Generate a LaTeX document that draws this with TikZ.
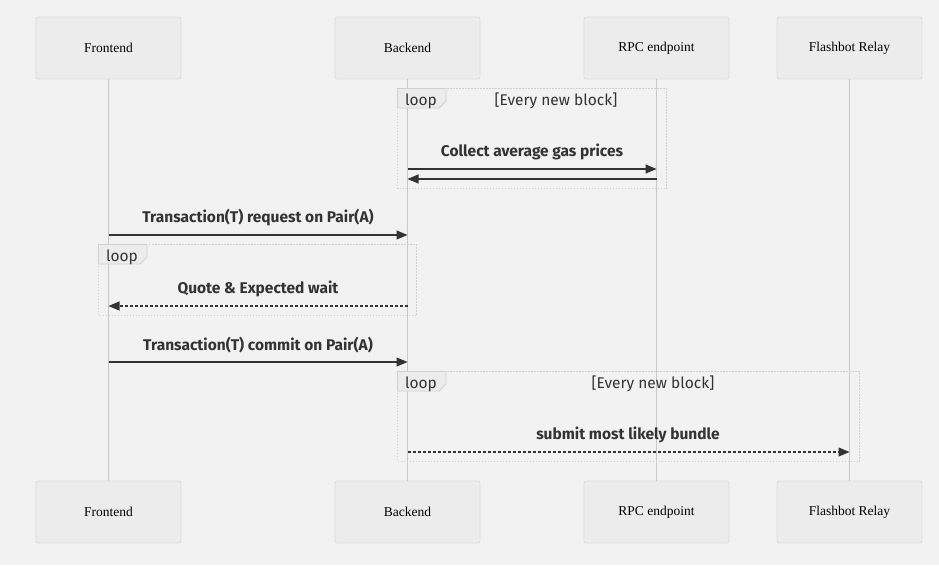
\documentclass[tikz,border=0pt]{standalone}
\usepackage{fontspec}
\setmainfont{Liberation Serif}
\newfontfamily\msgfont{Fira Sans}
\usetikzlibrary{arrows.meta}
\definecolor{bg}{HTML}{F2F2F2}
\definecolor{boxfill}{HTML}{ECECEC}
\definecolor{boxline}{HTML}{DCDCDC}
\definecolor{lifeline}{HTML}{C8C8C8}
\definecolor{ink}{HTML}{333333}
\definecolor{loopline}{HTML}{D0D0D0}
\tikzset{
  actor/.style={draw=boxline, fill=boxfill, rounded corners=2pt, minimum width=145pt, minimum height=62pt, inner sep=0pt, font=\fontsize{13.5}{15}\selectfont, text=black, line width=0.8pt},
  life/.style={draw=lifeline, line width=0.8pt},
  msg/.style={draw=ink, line width=1.1pt, -{Triangle[length=11pt,width=9pt]}},
  dmsg/.style={msg, dash pattern=on 3pt off 2pt},
  msglabel/.style={font=\msgfont\bfseries\fontsize{15.5}{17}\selectfont, text=ink, inner sep=0pt},
  loopbox/.style={draw=loopline, line width=1.2pt, dash pattern=on 1.5pt off 1.5pt},
  looptab/.style={draw=loopline, fill=boxfill, line width=0.8pt},
  looplabel/.style={font=\msgfont\fontsize{15.5}{17}\selectfont, text=ink, inner sep=0pt},
}
\begin{document}
\begin{tikzpicture}[x=1pt,y=-1pt]
\fill[bg] (0,0) rectangle (939,565);
\useasboundingbox (0,0) rectangle (939,565);
% participants
\node[actor] (f1) at (108.5,48) {Frontend};
\node[actor] (b1) at (407.5,48) {Backend};
\node[actor] (r1) at (656.5,48) {RPC endpoint};
\node[actor] (x1) at (849.5,48) {Flashbot Relay};
\node[actor] (f2) at (108.5,512) {Frontend};
\node[actor] (b2) at (407.5,512) {Backend};
\node[actor] (r2) at (656.5,512) {RPC endpoint};
\node[actor] (x2) at (849.5,512) {Flashbot Relay};
% lifelines
\draw[life] (f1.south) -- (f2.north);
\draw[life] (b1.south) -- (b2.north);
\draw[life] (r1.south) -- (r2.north);
\draw[life] (x1.south) -- (x2.north);
% coordinates on lifelines
\coordinate (bA) at (407.5,169);
\coordinate (rA) at (656.5,169);
\coordinate (bB) at (407.5,179);
\coordinate (rB) at (656.5,179);
\coordinate (fC) at (108.5,235);
\coordinate (bC) at (407.5,235);
\coordinate (fD) at (108.5,306);
\coordinate (bD) at (407.5,306);
\coordinate (fE) at (108.5,362);
\coordinate (bE) at (407.5,362);
\coordinate (bF) at (407.5,452);
\coordinate (xF) at (849.5,452);
% loop 1
\draw[loopbox] (397.5,88.5) rectangle (666.5,188.5);
\draw[looptab] (397.5,88.5) -- (446,88.5) -- (446,101) -- (439,108) -- (397.5,108) -- cycle;
\node[looplabel] (l1) at (421,101) {loop};
\node[looplabel] (c1) at (556,101) {[Every new block]};
\node[msglabel] (m1) at (532,152) {Collect average gas prices};
\draw[msg] (bA) -- (rA);
\draw[msg] (rB) -- (bB);
% request
\node[msglabel] (m2) at (258,218) {Transaction(T) request on Pair(A)};
\draw[msg] (fC) -- (bC);
% loop 2
\draw[loopbox] (98.5,244.5) rectangle (416.5,315.5);
\draw[looptab] (98.5,244.5) -- (147,244.5) -- (147,257) -- (140,264) -- (98.5,264) -- cycle;
\node[looplabel] (l2) at (122,257) {loop};
\node[msglabel] (m3) at (258,289) {Quote \& Expected wait};
\draw[dmsg] (bD) -- (fD);
% commit
\node[msglabel] (m4) at (258,345) {Transaction(T) commit on Pair(A)};
\draw[msg] (fE) -- (bE);
% loop 3
\draw[loopbox] (397.5,371.5) rectangle (859.5,461.5);
\draw[looptab] (397.5,371.5) -- (446,371.5) -- (446,384) -- (439,391) -- (397.5,391) -- cycle;
\node[looplabel] (l3) at (421,384) {loop};
\node[looplabel] (c3) at (653,384) {[Every new block]};
\node[msglabel] (m5) at (628,435) {submit most likely bundle};
\draw[dmsg] (bF) -- (xF);
\end{tikzpicture}
\end{document}
